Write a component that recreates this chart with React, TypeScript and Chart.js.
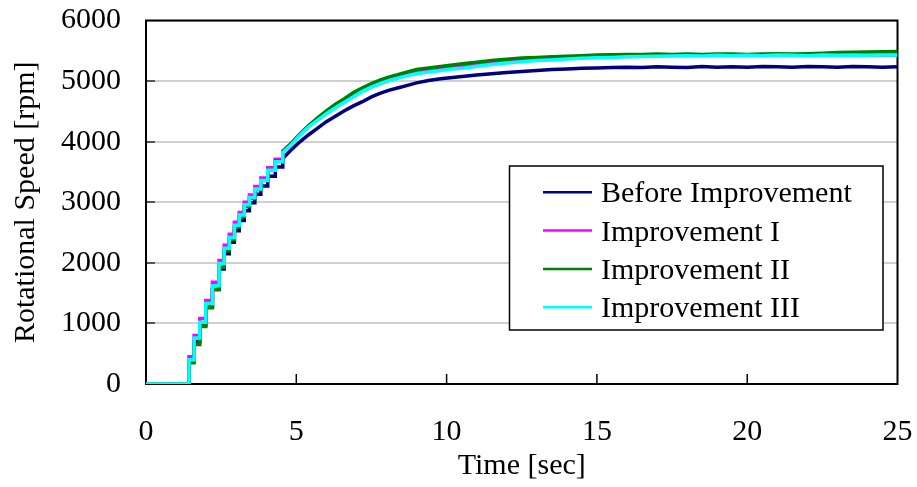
import React, { useEffect, useRef } from "react";
import { Chart, registerables } from "chart.js";

Chart.register(...registerables);

// Time axis [sec]
const timeSec = [
  0, 1.43, 1.6, 1.79, 1.99, 2.21, 2.43, 2.6, 2.77, 2.94,
  3.1, 3.27, 3.44, 3.62, 3.82, 4.05, 4.3, 4.55, 4.8, 5.1,
  5.4, 5.7, 6.0, 6.3, 6.6, 6.9, 7.2, 7.5, 7.8, 8.1,
  8.4, 8.7, 9.0, 9.4, 9.8, 10.2, 10.6, 11.0, 11.5,
  12.0, 12.5, 13.0, 13.5, 14.0, 14.5, 15.0, 15.5, 16.0, 16.5,
  17.0, 17.5, 18.0, 18.5, 19.0, 19.5,
  20.0, 20.5, 21.0, 21.5, 22.0, 22.5, 23.0, 23.5, 24.0, 24.5, 25.0,
];

// Rotational speed [rpm]
const beforeImprovement = [
  0, 380, 700, 980, 1280, 1560, 1900, 2150, 2340, 2530,
  2700, 2860, 2990, 3130, 3270, 3430, 3580, 3720, 3850, 3990,
  4110, 4220, 4330, 4420, 4510, 4590, 4660, 4740, 4800, 4850,
  4890, 4930, 4970, 5010, 5040, 5060, 5080, 5100, 5120,
  5140, 5160, 5175, 5190, 5200, 5210, 5215, 5225, 5230, 5225,
  5235, 5230, 5225, 5240, 5230, 5235,
  5230, 5240, 5235, 5230, 5240, 5235, 5230, 5240, 5235, 5230, 5235,
];

const improvementI = [
  0, 450, 800, 1080, 1380, 1680, 2040, 2290, 2470, 2670,
  2830, 3000, 3120, 3260, 3400, 3570, 3710, 3850, 3960, 4120,
  4260, 4380, 4490, 4590, 4690, 4780, 4860, 4930, 4990, 5040,
  5080, 5120, 5150, 5185, 5210, 5235, 5255, 5280, 5310,
  5335, 5355, 5370, 5385, 5395, 5405, 5415, 5420, 5430, 5425,
  5430, 5435, 5430, 5435, 5430, 5435,
  5430, 5435, 5430, 5435, 5430, 5435, 5430, 5435, 5430, 5435, 5430,
];

const improvementII = [
  0, 350, 650, 950, 1260, 1560, 1930, 2200, 2390, 2590,
  2760, 2930, 3060, 3210, 3360, 3530, 3680, 3830, 3950, 4110,
  4260, 4390, 4510, 4620, 4710, 4810, 4890, 4960, 5020, 5070,
  5110, 5150, 5190, 5215, 5240, 5265, 5290, 5310, 5340,
  5360, 5380, 5390, 5400, 5410, 5420, 5430, 5435, 5440, 5440,
  5445, 5440, 5445, 5440, 5445, 5445,
  5440, 5445, 5450, 5445, 5450, 5460, 5470, 5475, 5480, 5485, 5490,
];

const improvementIII = [
  0, 400, 760, 1020, 1330, 1620, 1990, 2240, 2420, 2620,
  2790, 2960, 3080, 3220, 3360, 3530, 3670, 3820, 3930, 4100,
  4240, 4350, 4460, 4560, 4650, 4740, 4830, 4900, 4960, 5010,
  5050, 5090, 5120, 5150, 5175, 5200, 5215, 5245, 5275,
  5300, 5320, 5340, 5350, 5365, 5375, 5385, 5390, 5400, 5405,
  5410, 5415, 5420, 5415, 5425, 5420,
  5425, 5420, 5430, 5425, 5420, 5430, 5425, 5430, 5425, 5430, 5430,
];

const seriesNames = ["Before Improvement", "Improvement I", "Improvement II", "Improvement III"];
const seriesColors = ["#000080", "#ff00ff", "#008000", "#00ffff"];
const seriesValues = [beforeImprovement, improvementI, improvementII, improvementIII];
const seriesDrawOrder = [4, 3, 2, 1];

// the staircase (sample-and-hold) shape is visible up to this time
const stairEndSec = 4.55;

const xTickValues = [0, 5, 10, 15, 20, 25];
const yTickValues = [0, 1000, 2000, 3000, 4000, 5000, 6000];

const FONT = "'Liberation Serif', 'Times New Roman', Times, serif";

function buildPoints(vals: number[]) {
  const pts: { x: number; y: number }[] = [];
  for (let j = 0; j < timeSec.length; j++) {
    pts.push({ x: timeSec[j], y: vals[j] });
    if (j + 1 < timeSec.length && timeSec[j + 1] <= stairEndSec) {
      pts.push({ x: timeSec[j + 1], y: vals[j] });
    }
  }
  return pts;
}

const frameAndLegend = {
  id: "frameAndLegend",
  beforeDatasetsDraw(chart: any) {
    const { ctx, chartArea } = chart;
    const xs = chart.scales.x;
    const ys = chart.scales.y;
    ctx.save();
    ctx.strokeStyle = "#555555";
    ctx.lineWidth = 2;
    yTickValues.slice(1, -1).forEach((v) => {
      const y = Math.round(ys.getPixelForValue(v));
      ctx.beginPath();
      ctx.moveTo(chartArea.left, y);
      ctx.lineTo(chartArea.left + 9, y);
      ctx.stroke();
    });
    ctx.strokeStyle = "#000000";
    ctx.lineWidth = 1.5;
    xTickValues.slice(1, -1).forEach((v) => {
      const x = xs.getPixelForValue(v);
      ctx.beginPath();
      ctx.moveTo(x, chartArea.bottom);
      ctx.lineTo(x, chartArea.bottom - 10);
      ctx.stroke();
    });
    ctx.strokeStyle = "#000000";
    ctx.lineWidth = 2;
    ctx.strokeRect(chartArea.left, chartArea.top, chartArea.right - chartArea.left, chartArea.bottom - chartArea.top);
    ctx.restore();
  },
  afterDraw(chart: any) {
    const { ctx } = chart;
    const boxL = 509.5, boxT = 166, boxR = 883, boxB = 330;
    ctx.save();
    ctx.fillStyle = "#ffffff";
    ctx.fillRect(boxL, boxT, boxR - boxL, boxB - boxT);
    ctx.strokeStyle = "#000000";
    ctx.lineWidth = 1.5;
    ctx.strokeRect(boxL, boxT, boxR - boxL, boxB - boxT);
    ctx.font = `30px ${FONT}`;
    ctx.textBaseline = "alphabetic";
    ctx.textAlign = "left";
    seriesNames.forEach((name, i) => {
      const y = 192.3 + i * 38.3;
      ctx.strokeStyle = seriesColors[i];
      ctx.lineWidth = 2.5;
      ctx.beginPath();
      ctx.moveTo(543, y);
      ctx.lineTo(592, y);
      ctx.stroke();
      ctx.fillStyle = "#000000";
      ctx.fillText(name, 601, y + 10);
    });
    ctx.restore();
  },
};

export default function App() {
  const canvasRef = useRef<HTMLCanvasElement | null>(null);

  useEffect(() => {
    document.body.style.margin = "0";
    const canvas = canvasRef.current;
    if (!canvas) return;
    const chart = new Chart(canvas, {
      type: "line",
      data: {
        datasets: seriesValues.map((vals, i) => ({
          label: seriesNames[i],
          data: buildPoints(vals),
          borderColor: seriesColors[i],
          backgroundColor: seriesColors[i],
          borderWidth: 3.5,
          pointRadius: 0,
          tension: 0,
          fill: false,
          order: seriesDrawOrder[i],
        })),
      },
      options: {
        responsive: false,
        animation: false,
        events: [],
        layout: { padding: { top: 20.5, right: 19.5, left: 0, bottom: 0 } },
        plugins: {
          legend: { display: false },
          tooltip: { enabled: false },
        },
        scales: {
          x: {
            type: "linear",
            min: 0,
            max: 25,
            afterBuildTicks: (scale: any) => {
              scale.ticks = xTickValues.map((v) => ({ value: v }));
            },
            afterFit: (scale: any) => {
              scale.height = 103;
              scale.paddingLeft = 0;
              scale.paddingRight = 0;
              scale.paddingTop = 0;
              scale.paddingBottom = 0;
            },
            grid: { display: false, drawTicks: false },
            border: { display: false },
            ticks: {
              color: "#000000",
              font: { family: FONT, size: 30, lineHeight: 1.2 },
              padding: 30,
              maxRotation: 0,
              autoSkip: false,
              callback: (v: any) => String(v),
            },
            title: {
              display: true,
              text: "Time [sec]",
              color: "#000000",
              font: { family: FONT, size: 30, lineHeight: 1.2 },
              padding: { top: 0, bottom: 3 },
            },
          },
          y: {
            type: "linear",
            min: 0,
            max: 6000,
            afterBuildTicks: (scale: any) => {
              scale.ticks = yTickValues.map((v) => ({ value: v }));
            },
            afterFit: (scale: any) => {
              scale.width = 146;
              scale.paddingLeft = 0;
              scale.paddingRight = 0;
              scale.paddingTop = 0;
              scale.paddingBottom = 0;
            },
            grid: { color: "#d0d0d0", lineWidth: 2, drawTicks: false },
            border: { display: false },
            ticks: {
              color: "#000000",
              font: { family: FONT, size: 30, lineHeight: 1.2 },
              padding: 25,
              autoSkip: false,
              callback: (v: any) => String(v),
            },
            title: {
              display: true,
              text: "Rotational Speed [rpm]",
              color: "#000000",
              font: { family: FONT, size: 30, lineHeight: 1.2 },
              padding: { top: 8, bottom: 0 },
            },
          },
        },
      },
      plugins: [frameAndLegend],
    } as any);
    return () => chart.destroy();
  }, []);

  return <canvas ref={canvasRef} width={917} height={487} style={{ display: "block" }} />;
}
